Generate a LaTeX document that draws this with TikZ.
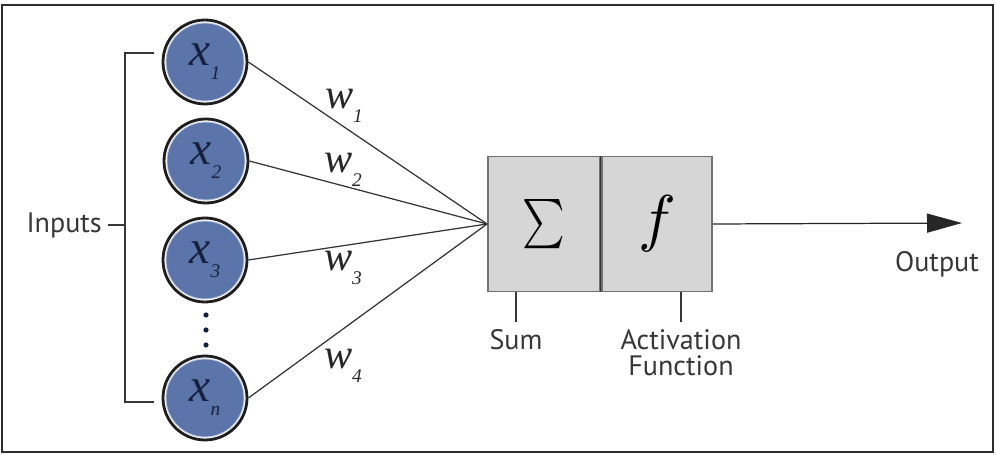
\documentclass[tikz,border=0pt]{standalone}
\usepackage{fontspec}
\usepackage{graphicx}
\usepackage{tikz}
\usetikzlibrary{arrows.meta, positioning}
\newfontfamily\labelfont{PT Sans}
\newfontfamily\varfont{Liberation Serif}
\definecolor{circblue}{RGB}{91,117,170}
\definecolor{ringdark}{RGB}{30,30,30}
\definecolor{varnavy}{RGB}{22,32,62}
\definecolor{boxgray}{RGB}{214,214,214}
\definecolor{boxline}{RGB}{115,115,115}
\definecolor{labelgray}{RGB}{55,55,55}
\definecolor{framedark}{RGB}{45,45,45}

% variable with a lowered subscript
\newcommand{\invar}[2]{{\varfont\itshape #1\raisebox{-8pt}{\fontsize{11}{11}\selectfont #2}}}

\begin{document}
\begin{tikzpicture}[
      x=0.02cm, y=-0.02cm,
      neuron/.style={circle, draw=ringdark, line width=1.6pt, fill=white,
                     minimum size=1.68cm, inner sep=0pt, text=varnavy,
                     font=\fontsize{27}{28}\selectfont,
                     path picture={
                       \fill[circblue] (path picture bounding box.center) circle (0.78cm);
                       \draw[circblue!40!white, line width=0.5pt]
                         (path picture bounding box.center) circle (0.78cm);}},
      weight/.style={font=\fontsize{24}{26}\selectfont, text=black!85, inner sep=0pt},
      unit/.style={draw=boxline, line width=1.1pt, fill=boxgray,
                   minimum height=2.7cm, inner sep=0pt},
      lbl/.style={font=\labelfont\fontsize{16}{15}\selectfont, text=labelgray, align=center},
      bracket/.style={draw=labelgray, line width=0.8pt},
      link/.style={draw=black!80, line width=0.7pt},
      outarrow/.style={-{Triangle[length=0.7cm, width=0.38cm]}, draw=black!85, line width=0.7pt},
    ]

    \useasboundingbox (0,0) rectangle (997,455);
    \draw[framedark, line width=1.3pt] (2,5) rectangle (993,452);

    % Neuronas de entrada
    \node[neuron] (x1) at (205,62)  {\invar{x}{1}};
    \node[neuron] (x2) at (206,161) {\invar{x}{2}};
    \node[neuron] (x3) at (205,260) {\invar{x}{3}};
    \node[neuron] (xn) at (205,398) {\invar{x}{n}};

    % Puntos suspensivos
    \foreach \y in {315,330,345}
      \fill[varnavy] (206,\y) circle (2.6);

    % Bloque suma / activacion
    \node[unit, minimum width=2.24cm] (sum) at (544,224)
      {\scalebox{2.3}[2.8]{$\sum$}};
    \node[unit, minimum width=2.2cm, right=0pt of sum] (act)
      {\scalebox{3.6}{$f$}};
    \draw[black!80, line width=0.6pt] (sum.north east) -- (sum.south east);

    % Conexiones con pesos
    \draw[link] (x1.east) -- (sum.west);
    \draw[link] (x2.east) -- (sum.west);
    \draw[link] (x3.east) -- (sum.west);
    \draw[link] (xn.east) -- (sum.west);

    \node[weight] (w1) at (344,106) {\invar{w}{1}};
    \node[weight] (w2) at (343,170) {\invar{w}{2}};
    \node[weight] (w3) at (343,268) {\invar{w}{3}};
    \node[weight] (w4) at (343,366) {\invar{w}{4}};

    % Llave de entradas
    \node[lbl, anchor=east] (inputs) at (108,225) {Inputs};
    \coordinate (btop) at (154,53);
    \coordinate (bbot) at (154,402);
    \draw[bracket] (btop) -- ++(-29,0) |- (bbot);
    \draw[bracket] (inputs.east) -- ++(17,0);

    % Etiquetas bajo el bloque
    \node[lbl, anchor=north, inner sep=4pt] (sumlbl) at (516,322) {Sum};
    \node[lbl, anchor=north, inner sep=4pt] (actlbl) at (681,322)
      {Activation\\Function};
    \draw[bracket] (sum.south -| sumlbl) -- (sumlbl.north);
    \draw[bracket] (act.south -| actlbl) -- (actlbl.north);

    % Salida
    \coordinate (out) at (962,223);
    \draw[outarrow] (act.east) -- (out);
    \node[lbl] (outlbl) at (937,264) {Output};

  \end{tikzpicture}
\end{document}
